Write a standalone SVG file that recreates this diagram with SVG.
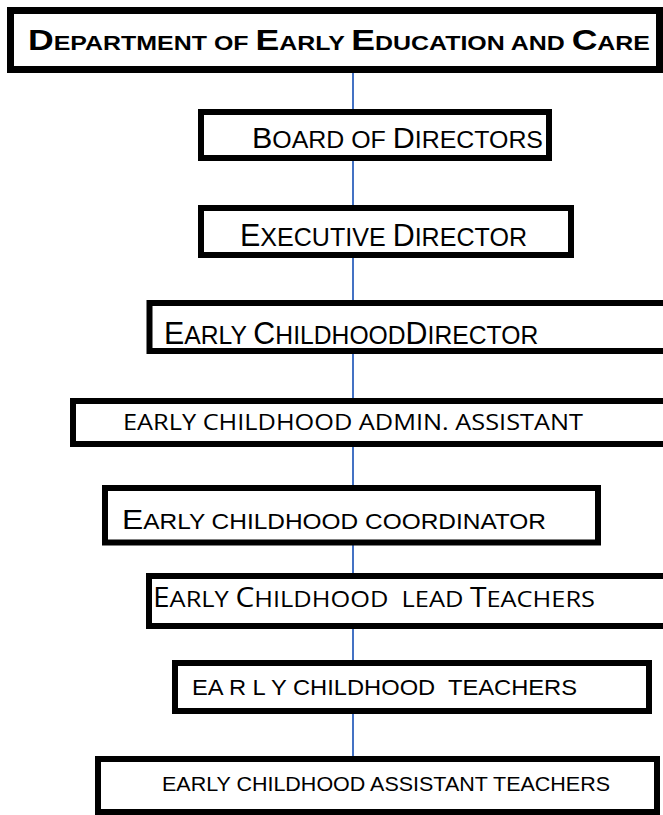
<svg xmlns="http://www.w3.org/2000/svg" width="663" height="815" viewBox="0 0 663 815">
<style>
.box{fill:#fff;stroke:#000;stroke-width:6}
.conn{stroke:#4472C4;stroke-width:2;fill:none}
.ar{font-family:"Liberation Sans",Arial,sans-serif;fill:#000}
.cb{font-family:"Open Sans","Noto Sans",sans-serif;fill:#000}
text{white-space:pre}
</style>
<rect width="663" height="815" fill="#fff"/>
<g id="connectors">
<line class="conn" x1="353" y1="73" x2="353" y2="109"/>
<line class="conn" x1="353" y1="161" x2="353" y2="205"/>
<line class="conn" x1="353" y1="258" x2="353" y2="300"/>
<line class="conn" x1="353" y1="354" x2="353" y2="398"/>
<line class="conn" x1="353" y1="447" x2="353" y2="485"/>
<line class="conn" x1="353" y1="545" x2="353" y2="573"/>
<line class="conn" x1="353" y1="629" x2="353" y2="660"/>
<line class="conn" x1="353" y1="714" x2="353" y2="756"/>
</g>
<g id="n-department">
<rect class="box" x="10.5" y="10.5" width="649" height="59" style="stroke-width:7"/>
<text class="ar" x="28" y="50" font-weight="bold" textLength="622" lengthAdjust="spacingAndGlyphs" xml:space="preserve"><tspan font-size="30">D</tspan><tspan font-size="21">EPARTMENT OF </tspan><tspan font-size="30">E</tspan><tspan font-size="21">ARLY </tspan><tspan font-size="30">E</tspan><tspan font-size="21">DUCATION AND </tspan><tspan font-size="30">C</tspan><tspan font-size="21">ARE</tspan></text>
</g>
<g id="n-board">
<rect class="box" x="201" y="112" width="348" height="46"/>
<text class="ar" x="252" y="148" textLength="291" lengthAdjust="spacingAndGlyphs" xml:space="preserve"><tspan font-size="30">B</tspan><tspan font-size="24.5">OARD OF </tspan><tspan font-size="30">D</tspan><tspan font-size="24.5">IRECTORS</tspan></text>
</g>
<g id="n-executive">
<rect class="box" x="201" y="208" width="370" height="47"/>
<text class="ar" x="240" y="246" textLength="287" lengthAdjust="spacingAndGlyphs" xml:space="preserve"><tspan font-size="31">E</tspan><tspan font-size="25.5">XECUTIVE </tspan><tspan font-size="31">D</tspan><tspan font-size="25.5">IRECTOR</tspan></text>
</g>
<g id="n-ecdirector">
<rect class="box" x="149.5" y="303" width="520" height="48"/>
<text class="ar" transform="translate(164,344) scale(0.95,1)" x="0" y="0" xml:space="preserve"><tspan font-size="32">E</tspan><tspan font-size="26">ARLY </tspan><tspan font-size="32">C</tspan><tspan font-size="26">HILDHOOD</tspan><tspan font-size="32">D</tspan><tspan font-size="26">IRECTOR</tspan></text>
</g>
<g id="n-admin">
<rect class="box" x="73" y="401" width="600" height="43"/>
<text class="cb" x="123" y="430" font-size="21" textLength="460" lengthAdjust="spacingAndGlyphs" xml:space="preserve">EARLY CHILDHOOD ADMIN. ASSISTANT</text>
</g>
<g id="n-coordinator">
<rect class="box" x="105" y="488" width="493" height="54.5"/>
<text class="ar" x="122" y="529" textLength="424" lengthAdjust="spacingAndGlyphs" xml:space="preserve"><tspan font-size="28">E</tspan><tspan font-size="21.5">ARLY CHILDHOOD COORDINATOR</tspan></text>
</g>
<g id="n-lead">
<rect class="box" x="149" y="576" width="520" height="50"/>
<text class="cb" x="153" y="607" textLength="442" lengthAdjust="spacingAndGlyphs" xml:space="preserve"><tspan font-size="26.5">E</tspan><tspan font-size="22.5">ARLY </tspan><tspan font-size="26.5">C</tspan><tspan font-size="22.5">HILDHOOD  LEAD </tspan><tspan font-size="26.5">T</tspan><tspan font-size="22.5">EACHERS</tspan></text>
</g>
<g id="n-teachers">
<rect class="box" x="175" y="663" width="474" height="48"/>
<text class="ar" x="192" y="695" font-size="22" textLength="385" lengthAdjust="spacingAndGlyphs" xml:space="preserve">EA R L Y CHILDHOOD  TEACHERS</text>
</g>
<g id="n-assistant">
<rect class="box" x="98" y="759" width="559" height="53"/>
<text class="ar" x="162" y="791" font-size="19.5" textLength="448" lengthAdjust="spacingAndGlyphs" xml:space="preserve">EARLY CHILDHOOD ASSISTANT TEACHERS</text>
</g>
</svg>
